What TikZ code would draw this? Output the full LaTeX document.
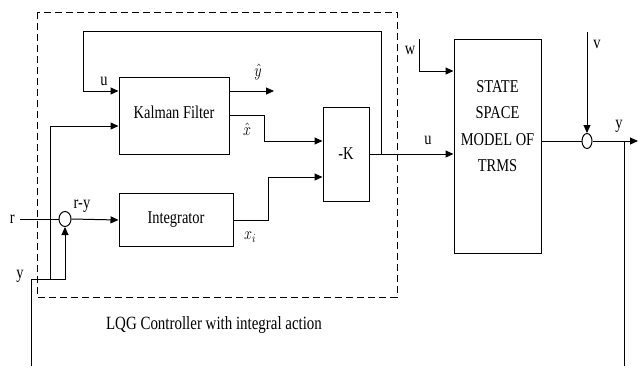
\documentclass[tikz,border=0pt]{standalone}
\usepackage{fontspec}
\setmainfont{Liberation Serif}
\usepackage{tikz}
\usetikzlibrary{positioning}
\usetikzlibrary{shapes.geometric, arrows.meta}
\newcommand{\tall}[1]{\scalebox{1}[1.25]{#1}}
\tikzstyle{block} = [rectangle, draw=black, line width=1bp, inner sep=0pt, font=\fontsize{14.5}{17}\selectfont]
\tikzstyle{sumpoint} = [ellipse, draw=black, line width=1bp, inner sep=0pt]
\tikzstyle{lbl} = [inner sep=0pt, font=\fontsize{14.5}{17}\selectfont]
\tikzstyle{line} = [line width=1bp]
\tikzstyle{arrow} = [line width=1bp,-{Triangle[length=8bp,width=7bp]}]

\begin{document}
\begin{tikzpicture}[x=1bp,y=-1bp]

	\useasboundingbox (0,0) rectangle (638,367);

	\draw [line, dash pattern=on 7bp off 4bp] (37,12) rectangle (397,297);

	\node (kalmanFilter) [block, minimum width=110bp, minimum height=77bp] at (174,115.5) {\raisebox{7bp}{\tall{Kalman Filter}}};

	\node (integrator) [block, minimum width=114bp, minimum height=53bp] at (176,220) {\tall{Integrator}};

	\node (gainK) [block, minimum width=46bp, minimum height=94bp] at (346,154) {\tall{-K}};

	\node (plant) [block, minimum width=87bp, minimum height=214bp, label={[lbl, align=center, font=\fontsize{14.5}{26.5}\selectfont, yshift=20bp]center:\tall{STATE}\\\tall{SPACE}\\\tall{MODEL OF}\\\tall{TRMS}}] at (497.5,146) {};

	\node (sumR) [sumpoint, minimum width=12bp, minimum height=15bp] at (65,219) {};

	\node (sumV) [sumpoint, minimum width=10bp, minimum height=15bp] at (587,141) {};

	\coordinate (rIn) at (20,219);
	\coordinate (yIn) at (31,366);
	\coordinate (yCorner) at (31,279);
	\coordinate (ySplit) at (50,279);
	\coordinate (kIn) at (0,126);
	\coordinate (uIn) at (0,91);
	\coordinate (uSplit) at (381,154);
	\coordinate (uTop) at (83,31);
	\coordinate (yHat) at (274,91);
	\coordinate (xHatCol) at (264,115);
	\coordinate (xHatIn) at (0,141);
	\coordinate (xiCol) at (268,220);
	\coordinate (xiIn) at (0,177);
	\coordinate (wIn) at (419,39);
	\coordinate (wCorner) at (419,71);
	\coordinate (vIn) at (587,32);
	\coordinate (yOut) at (638,141);
	\coordinate (ySplitOut) at (624,141);
	\coordinate (yDown) at (624,366);

	\node (rLbl) [lbl, left=5bp of rIn] {\tall{r}};
	\node (ryLbl) [lbl] at (82,206) {\tall{r-y}};
	\node (yLbl) [lbl] at (20,276) {\tall{y}};
	\node (uLbl) [lbl] at (104,81) {\tall{u}};
	\node (yHatLbl) [lbl] at (258,72) {\tall{$\hat{y}$}};
	\node (xHatLbl) [lbl] at (247,129) {\tall{$\hat{x}$}};
	\node (xiLbl) [lbl] at (250,237) {\tall{$x_i$}};
	\node (uPlantLbl) [lbl] at (428,140) {\tall{u}};
	\node (wLbl) [lbl] at (410,50) {\tall{w}};
	\node (vLbl) [lbl] at (597,44) {\tall{v}};
	\node (yOutLbl) [lbl] at (619,126) {\tall{y}};
	\node (caption) [lbl, font=\fontsize{15}{18}\selectfont] at (214,325) {\tall{LQG Controller with integral action}};

	% measured output back to the controller
	\draw [line] (yIn) -- (yCorner) -- (ySplit);
	\draw [arrow] (ySplit) -| (sumR.south);
	\draw [arrow] (ySplit) |- (kalmanFilter.west |- kIn);

	\draw [line] (rIn) -- (sumR.west);
	\draw [arrow] (sumR.east) -- (integrator.west);

	\draw [arrow] (integrator.east) -- (xiCol) |- (gainK.west |- xiIn);
	\draw [arrow] (kalmanFilter.east |- xHatCol) -- (xHatCol) |- (gainK.west |- xHatIn);
	\draw [arrow] (kalmanFilter.east |- yHat) -- (yHat);

	% control signal
	\draw [arrow] (gainK.east) -- (gainK.east -| plant.west);
	\draw [arrow] (uSplit) |- (uTop) |- (kalmanFilter.west |- uIn);

	\draw [arrow] (wIn) -- (wCorner) -- (wCorner -| plant.west);

	\draw [line] (plant.east |- sumV) -- (sumV.west);
	\draw [arrow] (vIn) -- (sumV.north);
	\draw [arrow] (sumV.east) -- (yOut);
	\draw [line] (ySplitOut) -- (yDown);

\end{tikzpicture}
\end{document}
